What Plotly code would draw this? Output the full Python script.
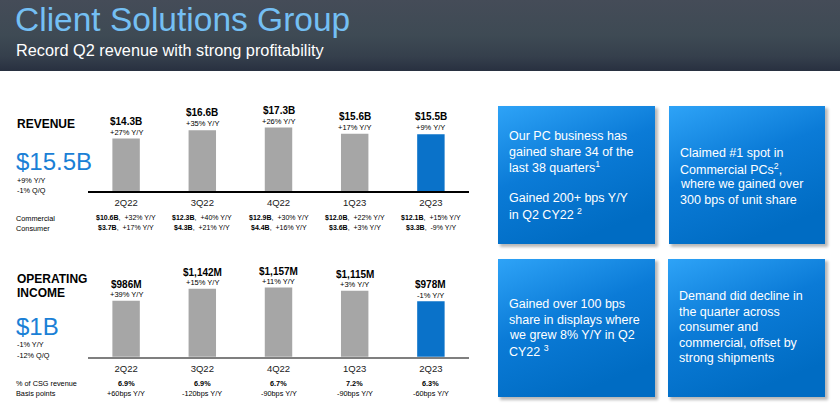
import base64
import plotly.graph_objects as go

W, H = 840, 411
FONT = "Liberation Sans, Arial, sans-serif"

# ---------------- data ----------------
quarters = ["2Q22", "3Q22", "4Q22", "1Q23", "2Q23"]
revenue_b = [14.3, 16.6, 17.3, 15.6, 15.5]
revenue_labels = ["$14.3B", "$16.6B", "$17.3B", "$15.6B", "$15.5B"]
revenue_yoy = ["+27% Y/Y", "+35% Y/Y", "+26% Y/Y", "+17% Y/Y", "+9% Y/Y"]
commercial = ["$10.6B", "$12.3B", "$12.9B", "$12.0B", "$12.1B"]
commercial_yoy = ["+32% Y/Y", "+40% Y/Y", "+30% Y/Y", "+22% Y/Y", "+15% Y/Y"]
consumer = ["$3.7B", "$4.3B", "$4.4B", "$3.6B", "$3.3B"]
consumer_yoy = ["+17% Y/Y", "+21% Y/Y", "+16% Y/Y", "+3% Y/Y", "-9% Y/Y"]

opinc_m = [986, 1142, 1157, 1115, 978]
opinc_labels = ["$986M", "$1,142M", "$1,157M", "$1,115M", "$978M"]
opinc_yoy = ["+39% Y/Y", "+15% Y/Y", "+11% Y/Y", "+3% Y/Y", "-1% Y/Y"]
pct_csg = ["6.9%", "6.9%", "6.7%", "7.2%", "6.3%"]
bps_yoy = ["+60bps Y/Y", "-120bps Y/Y", "-90bps Y/Y", "-90bps Y/Y", "-60bps Y/Y"]

title = "Client Solutions Group"
subtitle = "Record Q2 revenue with strong profitability"
rev_headline = "$15.5B"
rev_notes = ["+9% Y/Y", "-1% Q/Q"]
op_headline = "$1B"
op_notes = ["-1% Y/Y", "-12% Q/Q"]

box_texts = [
    ["Our PC business has", "gained share 34 of the", "last 38 quarters<sup>1</sup>", "",
     "Gained 200+ bps Y/Y", "in Q2 CY22 <sup>2</sup>"],
    ["Claimed #1 spot in", "Commercial PCs<sup>2</sup>,", "where we gained over",
     "300 bps of unit share"],
    ["Gained over 100 bps", "share in displays where", "we grew 8% Y/Y in Q2",
     "CY22 <sup>3</sup>"],
    ["Demand did decline in", "the quarter across", "consumer and",
     "commercial, offset by", "strong shipments"],
]

# ---------------- helpers ----------------
def px(x):
    return x / W

def py(y):
    return 1 - y / H

GRAY = "#a6a6a6"
BLUE = "#0a72c9"
colors = [GRAY] * (len(quarters) - 1) + [BLUE]

# ---------------- background (header + boxes) ----------------
boxes = [(498, 106, 157, 138), (669, 106, 156, 138), (498, 259, 157, 138), (668, 259, 157, 138)]
box_svg = ""
for (bx, by, bw, bh) in boxes:
    box_svg += (f'<rect x="{bx+2}" y="{by+2}" width="{bw+1}" height="{bh+1}" fill="#000" '
                f'opacity="0.28" filter="url(#sh)"/>')
    box_svg += f'<rect x="{bx}" y="{by}" width="{bw}" height="{bh}" fill="url(#bx)"/>'
svg = f'''<svg xmlns="http://www.w3.org/2000/svg" width="{W}" height="{H}" viewBox="0 0 {W} {H}" preserveAspectRatio="none">
<defs>
<linearGradient id="hd" x1="0" y1="0" x2="0" y2="1">
<stop offset="0" stop-color="#454c58"/><stop offset="0.5" stop-color="#3e4a54"/>
<stop offset="0.8" stop-color="#353f4c"/><stop offset="1" stop-color="#283040"/></linearGradient>
<linearGradient id="bx" x1="0" y1="0" x2="0.45" y2="1">
<stop offset="0" stop-color="#2ea3f7"/><stop offset="0.5" stop-color="#0b7bd7"/>
<stop offset="1" stop-color="#006cc3"/></linearGradient>
<filter id="sh" x="-10%" y="-10%" width="130%" height="130%"><feGaussianBlur stdDeviation="1.6"/></filter>
</defs>
<rect x="0" y="0" width="{W}" height="71" fill="url(#hd)"/>
{box_svg}
</svg>'''
svg_uri = "data:image/svg+xml;base64," + base64.b64encode(svg.encode()).decode()

# ---------------- figure ----------------
fig = go.Figure()
fig.add_trace(go.Bar(x=quarters, y=revenue_b, marker=dict(color=colors, line=dict(width=0)),
                     width=0.36, xaxis="x", yaxis="y", hoverinfo="skip"))
fig.add_trace(go.Bar(x=quarters, y=opinc_m, marker=dict(color=colors, line=dict(width=0)),
                     width=0.36, xaxis="x2", yaxis="y2", hoverinfo="skip"))

ann = []

def text(x, y, s, size, color="#000000", bold=False, xanchor="left", xref="paper", yref="paper",
         yshift=0):
    if bold:
        s = f"<b>{s}</b>"
    ann.append(dict(x=x, y=y, xref=xref, yref=yref, text=s, showarrow=False,
                    xanchor=xanchor, yanchor="middle", yshift=yshift,
                    font=dict(family=FONT, size=size, color=color)))

# header
text(px(13), py(19), title, 33.5, "#74bff3")
text(px(14), py(50), subtitle, 16.3, "#ffffff")

# revenue panel
text(px(15), py(124), "REVENUE", 12, bold=True)
text(px(14), py(162), rev_headline, 24, "#1a80d6")
for i, s in enumerate(rev_notes):
    text(px(15), py(180 + 10 * i), s, 7.3)
text(px(14), py(218), "Commercial", 7.3)
text(px(14), py(228), "Consumer", 7.3)
for i, q in enumerate(quarters):
    text(q, revenue_b[i], revenue_labels[i], 10, bold=True, xanchor="center", xref="x", yref="y",
         yshift=17.5)
    text(q, revenue_b[i], revenue_yoy[i], 7.5, xanchor="center", xref="x", yref="y", yshift=6.3)
    ann.append(dict(x=q, y=py(218), xref="x", yref="paper", showarrow=False, xanchor="center",
                    yanchor="middle", text=f"<b>{commercial[i]}</b>,  {commercial_yoy[i]}",
                    font=dict(family=FONT, size=7, color="#000000")))
    ann.append(dict(x=q, y=py(228), xref="x", yref="paper", showarrow=False, xanchor="center",
                    yanchor="middle", text=f"<b>{consumer[i]}</b>,  {consumer_yoy[i]}",
                    font=dict(family=FONT, size=7, color="#000000")))

# operating income panel
text(px(15), py(279), "OPERATING", 12, bold=True)
text(px(15), py(293), "INCOME", 12, bold=True)
text(px(14), py(326), op_headline, 24, "#1a80d6")
for i, s in enumerate(op_notes):
    text(px(15), py(344 + 11.5 * i), s, 7.3)
text(px(14), py(383), "% of CSG revenue", 7.3)
text(px(14), py(393), "Basis points", 7.3)
for i, q in enumerate(quarters):
    text(q, opinc_m[i], opinc_labels[i], 10, bold=True, xanchor="center", xref="x2", yref="y2",
         yshift=16.5)
    text(q, opinc_m[i], opinc_yoy[i], 7.5, xanchor="center", xref="x2", yref="y2", yshift=6)
    text(q, py(383), pct_csg[i], 7.3, bold=True, xanchor="center", xref="x2")
    text(q, py(393), bps_yoy[i], 7.3, xanchor="center", xref="x2")

# right boxes text
box_text_pos = [(507, 136), (678, 153), (507, 304), (677, 296)]
for (tx, ty), lines in zip(box_text_pos, box_texts):
    for j, line in enumerate(lines):
        if line:
            text(px(tx), py(ty + 15.6 * j), line, 12.5, "#ffffff")

xcommon = dict(type="category", categoryorder="array", categoryarray=quarters,
               range=[-0.5, len(quarters) - 0.5], showgrid=False, zeroline=False,
               showline=True, linewidth=2, ticks="outside", ticklen=2,
               tickcolor="rgba(0,0,0,0)", tickfont=dict(family=FONT, size=9.5, color="#1a1a1a"),
               fixedrange=True)

fig.update_layout(
    width=W, height=H, margin=dict(l=0, r=0, t=0, b=0),
    paper_bgcolor="#ffffff", plot_bgcolor="rgba(0,0,0,0)",
    showlegend=False, bargap=0.6,
    xaxis=dict(**xcommon, domain=[px(88), px(469)], anchor="y", linecolor="#000000"),
    yaxis=dict(domain=[py(191), py(95)], range=[0, 26.2], visible=False, fixedrange=True),
    xaxis2=dict(**xcommon, domain=[px(88), px(469)], anchor="y2", linecolor="#7f7f7f"),
    yaxis2=dict(domain=[py(356.7), py(262)], range=[258, 1489], visible=False, fixedrange=True),
    annotations=ann,
    images=[dict(source=svg_uri, xref="paper", yref="paper", x=0, y=1, sizex=1, sizey=1,
                 xanchor="left", yanchor="top", sizing="stretch", layer="below")],
)

fig.write_html("out.html", config={"displayModeBar": False},
               post_script="document.body.style.margin='0';document.body.style.padding='0';")
